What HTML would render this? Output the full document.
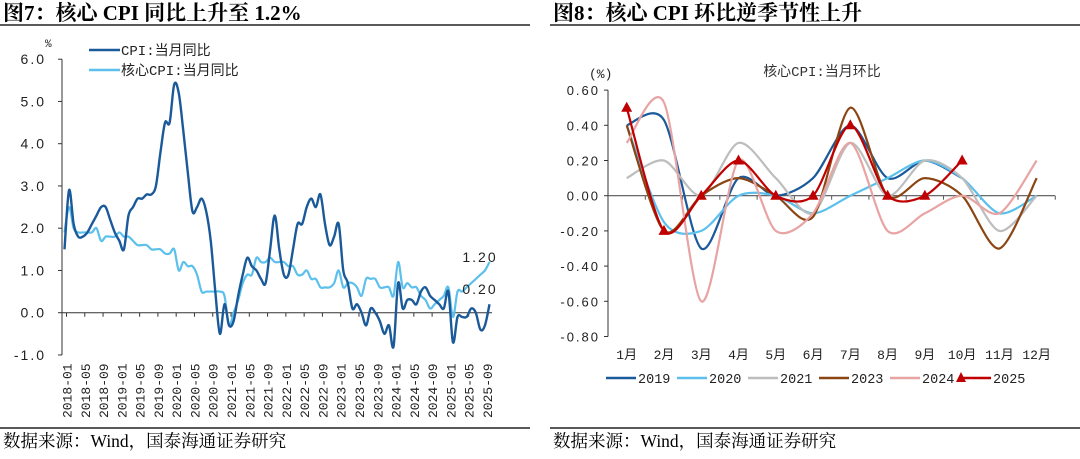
<!DOCTYPE html>
<html><head><meta charset="utf-8">
<style>
body{margin:0;width:1080px;height:454px;background:#fff;overflow:hidden;font-family:"Liberation Sans","Noto Sans CJK SC",sans-serif;}
svg text{font-family:"Liberation Mono","Noto Sans CJK SC",monospace;}
.ttl{font-family:"Liberation Serif","Noto Serif CJK SC",serif;font-weight:bold;font-size:21px;}
.src{font-family:"Liberation Serif","Noto Serif CJK SC",serif;font-size:17.5px;}
.tk{font-family:"Liberation Sans",sans-serif !important;letter-spacing:2px;}
</style></head>
<body>
<svg id="s" width="1080" height="454" xmlns="http://www.w3.org/2000/svg">
<text x="3" y="20" class="ttl">图7：核心 CPI 同比上升至 1.2%</text>
<line x1="0" y1="25" x2="530" y2="25" stroke="#222" stroke-width="1.5"/>
<text x="553" y="20" class="ttl">图8：核心 CPI 环比逆季节性上升</text>
<line x1="550" y1="25" x2="1080" y2="25" stroke="#222" stroke-width="1.5"/>
<line x1="0" y1="428" x2="530" y2="428" stroke="#222" stroke-width="1.5"/>
<line x1="550" y1="428" x2="1080" y2="428" stroke="#222" stroke-width="1.5"/>
<text x="3" y="447" class="src">数据来源：Wind，国泰海通证券研究</text>
<text x="553" y="447" class="src">数据来源：Wind，国泰海通证券研究</text>
<g id="L"></g><g id="R"></g>
</svg>
<script>
// ---- left chart data ----
const cpiYoY=[1.5,2.9,2.1,1.8,1.8,1.9,2.1,2.3,2.5,2.5,2.2,1.9,
1.7,1.5,2.3,2.5,2.7,2.7,2.8,2.8,3.0,3.8,4.5,4.5,
5.4,5.2,4.3,3.3,2.4,2.5,2.7,2.4,1.7,0.5,-0.5,0.2,
-0.3,-0.2,0.4,0.9,1.3,1.1,1.0,0.8,0.7,1.5,2.3,1.5,
0.9,0.9,1.5,2.1,2.1,2.5,2.7,2.5,2.8,2.1,1.6,1.8,
2.1,1.0,0.7,0.1,0.2,0.0,-0.3,0.1,0.0,-0.2,-0.5,-0.3,
-0.8,0.7,0.1,0.3,0.3,0.2,0.5,0.6,0.4,0.3,0.2,0.1,
0.5,-0.7,-0.1,-0.1,-0.1,0.1,0.0,-0.4,-0.3,0.2];
const coreYoY=[1.9,2.5,2.0,1.9,1.9,1.9,1.9,2.0,1.7,1.8,1.8,1.8,
1.9,1.8,1.8,1.7,1.6,1.6,1.6,1.5,1.5,1.5,1.4,1.4,
1.5,1.0,1.2,1.1,1.1,0.9,0.5,0.5,0.5,0.5,0.5,0.4,
-0.3,0.0,0.3,0.7,0.9,0.9,1.3,1.2,1.2,1.3,1.2,1.2,
1.2,1.1,1.1,0.9,0.9,1.0,0.8,0.8,0.6,0.6,0.6,0.7,
1.0,0.6,0.7,0.7,0.6,0.4,0.8,0.8,0.8,0.6,0.6,0.6,
0.4,1.2,0.6,0.7,0.6,0.6,0.4,0.3,0.1,0.2,0.3,0.4,
0.6,-0.1,0.5,0.5,0.6,0.7,0.8,0.9,1.0,1.2];
const leftTicks=[6,5,4,3,2,1,0,-1];
// ---- right chart data ----
const months=["1月","2月","3月","4月","5月","6月","7月","8月","9月","10月","11月","12月"];
const rightTicks=[0.6,0.4,0.2,0,-0.2,-0.4,-0.6,-0.8];
const m2019=[0.4,0.43,-0.3,0.1,0.0,0.1,0.4,0.1,0.2,0.1];
const m2020=[0.4,-0.15,-0.2,0.0,0.0,-0.1,0.0,0.1,0.2,0.1,-0.1,0.0];
const m2021=[0.1,0.2,0.0,0.3,0.1,-0.1,0.3,0.0,0.2,0.1,-0.2,0.0];
const m2023=[0.4,-0.2,0.0,0.1,0.0,-0.12,0.5,0.0,0.1,0.0,-0.3,0.1];
const m2024=[0.3,0.53,-0.6,0.2,-0.2,-0.1,0.3,-0.2,-0.1,0.0,-0.1,0.2];
const m2025=[0.5,-0.2,0.0,0.2,0.0,0.0,0.4,0.0,0.0,0.2];
const NS="http://www.w3.org/2000/svg";
function mk(tag,attrs,parent,txt){const e=document.createElementNS(NS,tag);for(const k in attrs)e.setAttribute(k,attrs[k]);if(txt!=null)e.textContent=txt;parent.appendChild(e);return e;}
function smooth(pts,t){t=t||6;let d="M"+pts[0][0]+","+pts[0][1];for(let i=0;i<pts.length-1;i++){const p0=pts[i-1]||pts[i],p1=pts[i],p2=pts[i+1],p3=pts[i+2]||p2;d+=" C"+(p1[0]+(p2[0]-p0[0])/t)+","+(p1[1]+(p2[1]-p0[1])/t)+" "+(p2[0]-(p3[0]-p1[0])/t)+","+(p2[1]-(p3[1]-p1[1])/t)+" "+p2[0]+","+p2[1];}return d;}
// LEFT
const L=document.getElementById('L');
const lx=i=>64.5+i*4.57, ly=v=>312.7-v*42.25;
mk('line',{x1:62,y1:ly(6),x2:62,y2:ly(-1),stroke:'#333','stroke-width':1},L);
mk('line',{x1:62,y1:ly(0),x2:492,y2:ly(0),stroke:'#333','stroke-width':1},L);
leftTicks.forEach(v=>{
 const t=mk('text',{x:46,y:ly(v)+5,'text-anchor':'end','font-size':14,fill:'#222','class':'tk'},L,(v<0?'-':'')+Math.abs(v).toFixed(1));
 
 mk('line',{x1:58,y1:ly(v),x2:62,y2:ly(v),stroke:'#333'},L);
});
mk('text',{x:45,y:47,'font-size':11,fill:'#222'},L,'%');
for(let i=0;i<94;i+=4){
 const y=2018+Math.floor(i/12),m=i%12+1;
 mk('line',{x1:lx(i)+2,y1:ly(0),x2:lx(i)+2,y2:ly(0)+4,stroke:'#333'},L);
 const t=mk('text',{x:0,y:0,transform:`translate(${lx(i)+7},418) rotate(-90)`,'font-size':13,fill:'#222','font-family':'Liberation Sans'},L,y+'-'+String(m).padStart(2,'0'));
 
}
const coreP=mk('path',{d:smooth(coreYoY.map((v,i)=>[lx(i),ly(v)])),fill:'none',stroke:'#5bc0eb','stroke-width':2.2},L);

const cpiP=mk('path',{d:smooth(cpiYoY.map((v,i)=>[lx(i),ly(v)])),fill:'none',stroke:'#1a5a9a','stroke-width':2.4},L);

mk('text',{x:480,y:262,'text-anchor':'middle','font-size':14,fill:'#222','class':'tk'},L,coreYoY[coreYoY.length-1].toFixed(2));
mk('text',{x:480,y:294,'text-anchor':'middle','font-size':14,fill:'#222','class':'tk'},L,cpiYoY[cpiYoY.length-1].toFixed(2));
mk('line',{x1:89,y1:50,x2:120,y2:50,stroke:'#1a5a9a','stroke-width':2.4},L);
mk('text',{x:121,y:55,'font-size':14,fill:'#222'},L,'CPI:当月同比');
mk('line',{x1:89,y1:70,x2:120,y2:70,stroke:'#5bc0eb','stroke-width':2.4},L);
mk('text',{x:121,y:75,'font-size':14,fill:'#222'},L,'核心CPI:当月同比');
// RIGHT
const R=document.getElementById('R');
const rx=i=>626.7+i*37.27, ry=v=>195.7-v*176;
mk('line',{x1:608,y1:ry(0.6),x2:608,y2:ry(-0.8),stroke:'#333'},R);
mk('line',{x1:608,y1:ry(0),x2:1055,y2:ry(0),stroke:'#555','stroke-width':1.2},R);
rightTicks.forEach(v=>{
 mk('line',{x1:604,y1:ry(v),x2:608,y2:ry(v),stroke:'#333'},R);
 mk('text',{x:600,y:ry(v)+5,'text-anchor':'end','font-size':13,fill:'#222','class':'tk'},R,(v<0?'-':'')+Math.abs(v).toFixed(2));
});
months.forEach((m,i)=>{
 mk('line',{x1:rx(i)+18.6,y1:ry(0),x2:rx(i)+18.6,y2:ry(0)+4,stroke:'#555'},R);
 mk('text',{x:rx(i),y:359,'text-anchor':'middle','font-size':13,fill:'#222'},R,m);
});
mk('text',{x:589,y:78,'font-size':13,fill:'#222'},R,'(%)');
mk('text',{x:822,y:76,'text-anchor':'middle','font-size':14,fill:'#333'},R,'核心CPI:当月环比');
const series=[[m2019,'#1a5a9a','2019'],[m2020,'#5bc0eb','2020'],[m2021,'#bdbdbd','2021'],[m2023,'#8b4513','2023'],[m2024,'#e8a3a3','2024'],[m2025,'#c00000','2025']];
series.forEach(([arr,col,name],k)=>{
 const p=mk('path',{d:smooth(arr.map((v,i)=>[rx(i),ry(v)]),7),fill:'none',stroke:col,'stroke-width':2.2},R);
 
 const lx0=606+k*71;
 mk('line',{x1:lx0,y1:378,x2:lx0+30,y2:378,stroke:col,'stroke-width':2.4},R);
 mk('text',{x:lx0+32,y:383,'font-size':13.5,fill:'#222','font-family':'Liberation Sans'},R,name);
});
m2025.forEach((v,i)=>{const x=rx(i),y=ry(v);
 const t=mk('polygon',{points:`${x},${y-6} ${x-5.5},${y+4} ${x+5.5},${y+4}`,fill:'#c00000'},R);
 
});
mk('polygon',{points:`${961},372 ${956},382 ${966},382`,fill:'#c00000'},R);
</script>
</body></html>
